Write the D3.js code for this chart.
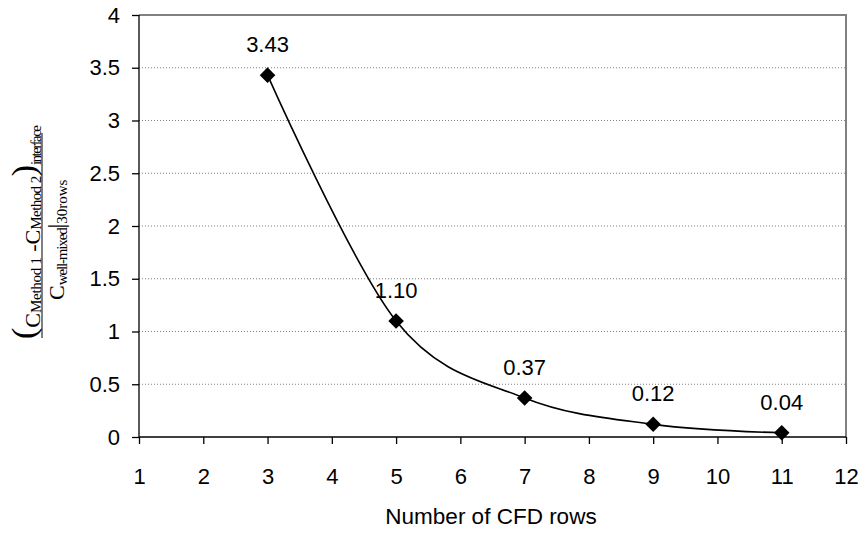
<!DOCTYPE html>
<html><head><meta charset="utf-8">
<script src="https://cdn.jsdelivr.net/npm/d3@7"></script>
<style>body{margin:0;background:#fff}svg{display:block}</style>
</head><body>
<svg id="c" width="859" height="534"></svg>
<script>
const rows = [3, 5, 7, 9, 11];
const values = [3.43, 1.10, 0.37, 0.12, 0.04];
const valueLabels = ["3.43", "1.10", "0.37", "0.12", "0.04"];
const xTicks = [1,2,3,4,5,6,7,8,9,10,11,12];
const yTicks = [0,0.5,1,1.5,2,2.5,3,3.5,4];
const yTickLabels = ["0","0.5","1","1.5","2","2.5","3","3.5","4"];
const xTitle = "Number of CFD rows";

const svg = d3.select("#c");
const L = 139, R = 846, T = 15, B = 437;
const x = d3.scaleLinear().domain([1,12]).range([L,R]);
const y = d3.scaleLinear().domain([0,4]).range([B,T]);
const sans = "Liberation Sans, Arial, sans-serif";
const serif = "Liberation Serif, Times New Roman, serif";

// gridlines
svg.append("g").selectAll("line").data(yTicks.filter(d=>d>0 && d<4)).join("line")
  .attr("x1",L).attr("x2",R).attr("y1",d=>y(d)).attr("y2",d=>y(d))
  .attr("stroke","#808080").attr("stroke-width",1).attr("stroke-dasharray","1,2");
// top and right border
svg.append("path").attr("d",`M${L},${T}H${R}V${B}`).attr("fill","none")
  .attr("stroke","#808080").attr("stroke-width",2);

// axes
const yAxis = d3.axisLeft(y).tickValues(yTicks).tickSize(7).tickPadding(12)
  .tickFormat((d,i)=>yTickLabels[i]);
const gy = svg.append("g").attr("transform",`translate(${L},0)`).call(yAxis);
const xAxis = d3.axisBottom(x).tickValues(xTicks).tickSize(7).tickPadding(24)
  .tickFormat(d3.format("d"));
const gx = svg.append("g").attr("transform",`translate(0,${B})`).call(xAxis);
[gx, gy].forEach(g=>{
  g.select(".domain").attr("stroke","#000").attr("stroke-width",1.3);
  g.selectAll(".tick line").attr("stroke","#000").attr("stroke-width",1.3);
  g.selectAll(".tick text").attr("font-family",sans).attr("font-size",22).attr("fill","#000");
});
gy.select(".domain").attr("d",`M0,${B}V${T}`);
gx.select(".domain").attr("d",`M${L},0H${R}`);

// curve
const pts = rows.map((r,i)=>[x(r), y(values[i])]);
svg.append("path").attr("d", d3.line().curve(d3.curveCardinal.tension(0))(pts))
  .attr("fill","none").attr("stroke","#000").attr("stroke-width",1.6);

// diamonds
svg.append("g").selectAll("path").data(pts).join("path")
  .attr("d", d3.symbol().type(d3.symbolSquare).size(121)())
  .attr("transform", d=>`translate(${d[0]},${d[1]}) rotate(45)`)
  .attr("fill","#000");

// value labels
svg.append("g").selectAll("text").data(rows).join("text")
  .attr("x",(d)=>x(d)).attr("y",(d,i)=>y(values[i])-23)
  .attr("text-anchor","middle").attr("font-family",sans).attr("font-size",22)
  .attr("fill","#000").text((d,i)=>valueLabels[i]);

// x title
svg.append("text").attr("x",491).attr("y",524).attr("text-anchor","middle")
  .attr("font-family",sans).attr("font-size",22.5).attr("fill","#000").text(xTitle);

// y title (fraction)
const yt = svg.append("g").attr("transform","rotate(-90)");
const num = yt.append("text").attr("x",-339).attr("y",35).attr("font-family",serif).attr("fill","#000");
num.append("tspan").attr("font-size",34).text("(");
num.append("tspan").attr("font-size",22).attr("dy",5).text("C");
num.append("tspan").attr("font-size",15).attr("dy",1).attr("textLength",56).text("Method 1");
num.append("tspan").attr("font-size",22).attr("dy",-1).text(" -C");
num.append("tspan").attr("font-size",15).attr("dy",1).attr("textLength",54).text("Method 2");
num.append("tspan").attr("font-size",34).attr("dy",-6).text(")");
num.append("tspan").attr("font-size",15).attr("dy",6).attr("textLength",40).text("interface");
yt.append("line").attr("x1",-338).attr("x2",-133).attr("y1",42).attr("y2",42)
  .attr("stroke","#000").attr("stroke-width",1);
const den = yt.append("text").attr("x",-300).attr("y",64).attr("font-family",serif).attr("fill","#000");
den.append("tspan").attr("font-size",22).text("C");
den.append("tspan").attr("font-size",15).attr("dy",3).attr("textLength",58).text("well-mixed");
den.append("tspan").attr("font-size",24).attr("dy",-3).text("|");
den.append("tspan").attr("font-size",15).attr("dy",3).attr("textLength",44).text("30rows");
</script>
</body></html>
